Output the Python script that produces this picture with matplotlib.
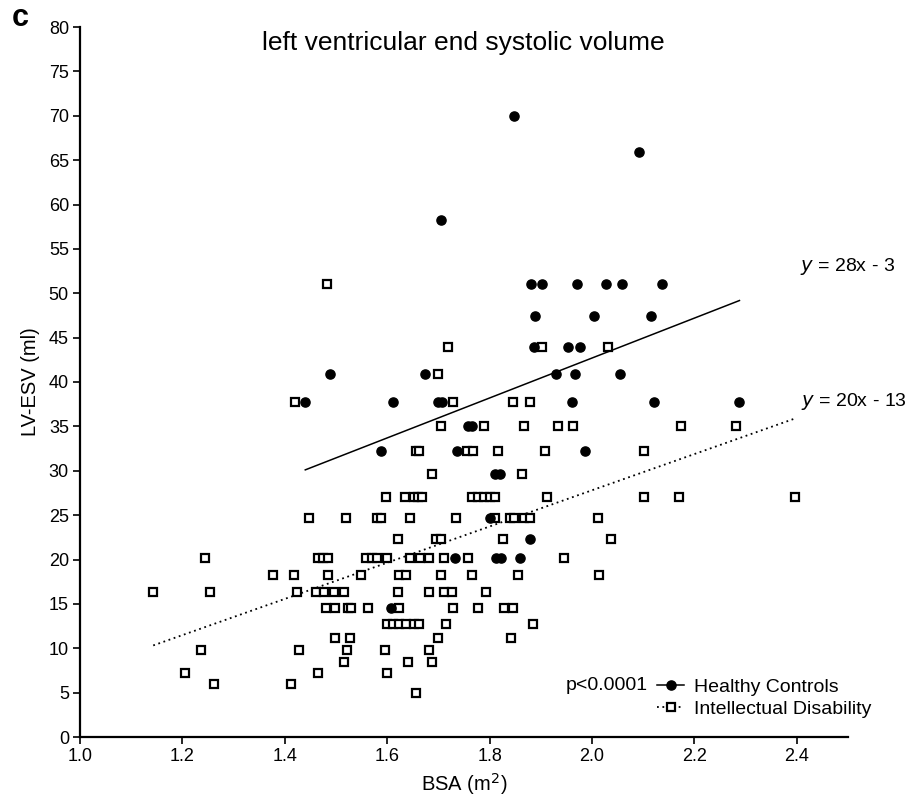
import numpy as np
import matplotlib
matplotlib.use("Agg")
import matplotlib.pyplot as plt
from matplotlib.lines import Line2D

plt.rcParams['font.family'] = ['Liberation Sans', 'DejaVu Sans']

# Healthy Controls (BSA m^2, LV-ESV ml)
hc_bsa = [1.847, 2.092, 1.705,
          1.881, 1.902, 1.970, 2.027, 2.058, 2.136,
          1.888, 2.004, 2.116,
          1.887, 1.953, 1.976,
          1.488, 1.674, 1.930, 1.967, 2.055,
          1.440, 1.611, 1.700, 1.708, 1.960, 2.122, 2.288,
          1.757, 1.765,
          1.587, 1.736, 1.987,
          1.810, 1.820,
          1.800,
          1.878,
          1.733, 1.812, 1.822, 1.860,
          1.607]
hc_esv = [70.0, 65.9, 58.2,
          51.0, 51.0, 51.0, 51.0, 51.0, 51.0,
          47.4, 47.4, 47.4,
          44.0, 44.0, 44.0,
          40.9, 40.9, 40.9, 40.9, 40.9,
          37.7, 37.7, 37.7, 37.7, 37.7, 37.7, 37.7,
          35.0, 35.0,
          32.2, 32.2, 32.2,
          29.6, 29.6,
          24.7,
          22.3,
          20.2, 20.2, 20.2, 20.2,
          14.5]

# Intellectual Disability, grouped by ESV level
id_levels = {
    51.0: [1.482],
    44.0: [1.719, 1.902, 2.031],
    40.9: [1.699],
    37.7: [1.419, 1.728, 1.846, 1.879],
    35.0: [1.705, 1.789, 1.868, 1.933, 1.962, 2.173, 2.282],
    32.2: [1.657, 1.663, 1.755, 1.768, 1.816, 1.909, 2.102],
    29.6: [1.688, 1.864],
    27.0: [1.598, 1.634, 1.652, 1.660, 1.668, 1.765, 1.778, 1.790, 1.800, 1.810,
           1.912, 2.102, 2.170, 2.397],
    24.7: [1.447, 1.519, 1.580, 1.587, 1.644, 1.735, 1.810, 1.840, 1.848, 1.868,
           1.879, 2.011],
    22.3: [1.621, 1.695, 1.706, 1.827, 2.038],
    20.2: [1.244, 1.465, 1.475, 1.485, 1.558, 1.570, 1.581, 1.599, 1.644, 1.665,
           1.681, 1.710, 1.758, 1.946],
    18.2: [1.376, 1.417, 1.485, 1.549, 1.623, 1.636, 1.705, 1.766, 1.855, 2.014],
    16.3: [1.143, 1.254, 1.424, 1.460, 1.476, 1.496, 1.516, 1.621, 1.681, 1.711,
           1.726, 1.792],
    14.5: [1.480, 1.498, 1.524, 1.530, 1.562, 1.624, 1.728, 1.777, 1.829, 1.845],
    12.7: [1.600, 1.612, 1.624, 1.636, 1.652, 1.662, 1.715, 1.885],
    11.1: [1.498, 1.528, 1.699, 1.842],
    9.8: [1.236, 1.427, 1.521, 1.596, 1.681],
    8.4: [1.516, 1.641, 1.688],
    7.2: [1.206, 1.465, 1.599],
    6.0: [1.261, 1.413],
    5.0: [1.657],
}
id_bsa = [x for lvl, xs in id_levels.items() for x in xs]
id_esv = [lvl for lvl, xs in id_levels.items() for x in xs]

# Regression lines as drawn (slope, intercept)
hc_fit = (22.5, -2.3)
id_fit = (20.4, -13.0)

x_ticks = [1.0, 1.2, 1.4, 1.6, 1.8, 2.0, 2.2, 2.4]
y_ticks = list(range(0, 81, 5))

fig = plt.figure(figsize=(9.07, 7.95), dpi=100)
ax = fig.add_axes([80/907, 58/795, 768/907, 710/795])

# regression lines over each group's data range
hx = np.array([min(hc_bsa), max(hc_bsa)])
ax.plot(hx, hc_fit[0]*hx + hc_fit[1], color='black', lw=1.1, zorder=2)
ix = np.array([min(id_bsa), max(id_bsa)])
ax.plot(ix, id_fit[0]*ix + id_fit[1], color='black', lw=1.3,
        linestyle=(0, (1, 2)), zorder=2)

ax.plot(id_bsa, id_esv, linestyle='none', marker='s', ms=6.4, mfc='white',
        mec='black', mew=1.6, zorder=3)
ax.plot(hc_bsa, hc_esv, linestyle='none', marker='o', ms=6.6, mfc='black',
        mec='black', zorder=4)

ax.set_xlim(1.0, 2.5)
ax.set_ylim(0, 80)
ax.set_xticks(x_ticks)
ax.set_xticklabels([f"{v:.1f}" for v in x_ticks])
ax.set_yticks(y_ticks)
ax.spines['top'].set_visible(False)
ax.spines['right'].set_visible(False)
for s in ('left', 'bottom'):
    ax.spines[s].set_linewidth(1.6)
ax.tick_params(direction='out', length=5, width=1.2, labelsize=13, pad=3)

ax.set_xlabel('BSA (m$^2$)', fontsize=14.5, labelpad=4)
ax.set_ylabel('LV-ESV (ml)', fontsize=14.5, labelpad=6)

fig.text(463/907, 1 - 43/795, 'left ventricular end systolic volume',
         ha='center', va='center', fontsize=19)
fig.text(20/907, 1 - 18/795, 'c', ha='center', va='center', fontsize=22,
         fontweight='bold')

fig.text(800/907, 1 - 267/795, '$y$ = 28x - 3', ha='left', va='center', fontsize=14)
fig.text(801/907, 1 - 401/795, '$y$ = 20x - 13', ha='left', va='center', fontsize=14)

handles = [Line2D([], [], color='black', lw=1.1, marker='o', ms=6.6, mfc='black'),
           Line2D([], [], color='black', lw=1.3, linestyle=(0, (1, 2)), marker='s',
                  ms=6.4, mfc='white', mew=1.6)]
leg = fig.legend(handles, ['Healthy Controls', 'Intellectual Disability'],
                 loc='center left', bbox_to_anchor=(657/907, 1 - 698/795),
                 frameon=False, fontsize=14, handlelength=1.4, handletextpad=0.5,
                 labelspacing=0.25, borderpad=0, borderaxespad=0)
fig.text(648/907, 1 - 685/795, 'p<0.0001', ha='right', va='center', fontsize=14)

fig.savefig('out.png', dpi=100)
